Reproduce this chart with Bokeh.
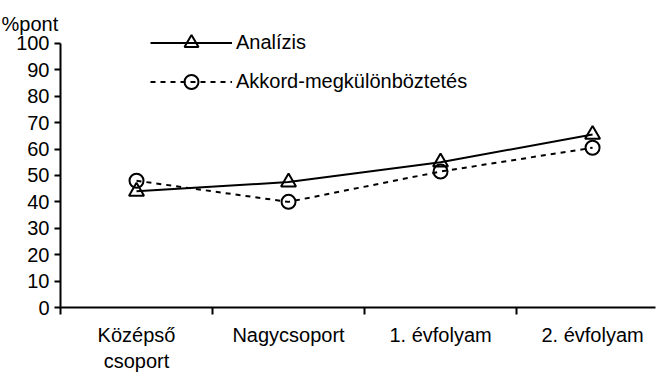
from bokeh.plotting import figure
from bokeh.models import Range1d, FixedTicker, Legend, LegendItem, Title
from bokeh.embed import file_html
from bokeh.resources import INLINE

categories = ["Középső\ncsoport", "Nagycsoport", "1. évfolyam", "2. évfolyam"]
analizis = [44, 47.5, 55, 65.5]
akkord = [48, 40, 51.5, 60.5]
y_ticks = [0, 10, 20, 30, 40, 50, 60, 70, 80, 90, 100]
series_names = ["Analízis", "Akkord-megkülönböztetés"]
y_unit = "%pont"

FONT = "Liberation Sans"
FS = "20px"

xs = [i + 0.5 for i in range(len(categories))]
bounds = [i for i in range(len(categories))]

p = figure(width=659, height=374, output_backend="svg", toolbar_location=None,
           x_range=Range1d(0, 3.914), y_range=Range1d(0, 110.2),
           min_border_left=60, min_border_right=4, min_border_top=16, min_border_bottom=66)
p.outline_line_color = None
p.grid.visible = False
p.background_fill_color = "white"

# y axis
ya = p.yaxis[0]
ya.ticker = FixedTicker(ticks=y_ticks)
ya.bounds = (0, 100)
ya.axis_line_width = 2
ya.major_tick_line_width = 2
ya.major_tick_in = 0
ya.major_tick_out = 6
ya.minor_tick_line_color = None
ya.major_label_text_font = FONT
ya.major_label_text_font_size = FS
ya.major_label_text_color = "black"
ya.major_label_standoff = 5

# x axis
xa = p.xaxis[0]
xa.ticker = FixedTicker(ticks=xs, minor_ticks=bounds)
xa.major_label_overrides = {x: c for x, c in zip(xs, categories)}
xa.axis_line_width = 2
xa.major_tick_line_color = None
xa.minor_tick_line_width = 2
xa.minor_tick_in = 0
xa.minor_tick_out = 7
xa.major_label_text_font = FONT
xa.major_label_text_font_size = FS
xa.major_label_text_color = "black"
xa.major_label_standoff = 9

l1 = p.line(xs, analizis, line_color="black", line_width=2)
m1 = p.scatter(xs, analizis, marker="triangle", size=15, line_color="black", line_width=2, fill_alpha=0)
l2 = p.line(xs, akkord, line_color="black", line_width=2, line_dash="5 5")
m2 = p.scatter(xs, akkord, marker="circle", size=14, line_color="black", line_width=2, fill_alpha=0)

legend = Legend(items=[LegendItem(label=series_names[0], renderers=[l1, m1]),
                       LegendItem(label=series_names[1], renderers=[l2, m2])],
                location=(90, 208), orientation="vertical",
                glyph_width=82, glyph_height=35, label_height=20, spacing=4,
                label_standoff=4, padding=0, margin=0,
                border_line_color=None, background_fill_alpha=0,
                label_text_font=FONT, label_text_font_size=FS, label_text_color="black")
p.add_layout(legend)

t = Title(text=y_unit, align="left", offset=-59, text_font=FONT, text_font_size=FS,
          text_font_style="normal", text_color="black", standoff=-36)
p.add_layout(t, "above")

open("out.html", "w").write(file_html(p, INLINE))
